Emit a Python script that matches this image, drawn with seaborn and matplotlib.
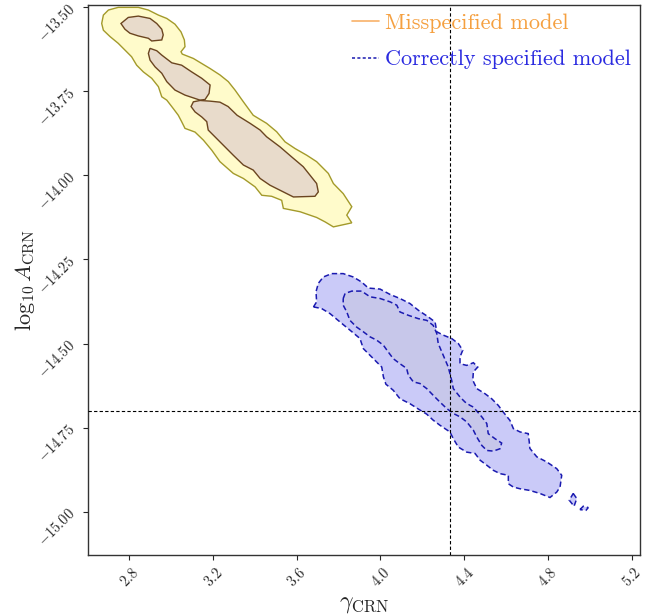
import numpy as np
import matplotlib
matplotlib.use("Agg")
import matplotlib.pyplot as plt
from matplotlib.lines import Line2D
import seaborn as sns

# credible-region outlines (gamma_CRN, log10 A_CRN)
mis_outer = np.array([
    (2.668, -13.548), (2.676, -13.523), (2.700, -13.508), (2.747, -13.500), (2.843, -13.500),
    (2.891, -13.508), (2.939, -13.523), (2.979, -13.533), (3.018, -13.550), (3.047, -13.573),
    (3.063, -13.597), (3.066, -13.617), (3.047, -13.632), (3.053, -13.639), (3.106, -13.652),
    (3.146, -13.667), (3.186, -13.682), (3.233, -13.701), (3.273, -13.721), (3.305, -13.746),
    (3.345, -13.781), (3.392, -13.821), (3.456, -13.845), (3.504, -13.870), (3.544, -13.900),
    (3.592, -13.920), (3.648, -13.940), (3.695, -13.959), (3.751, -13.994), (3.775, -14.024),
    (3.822, -14.054), (3.863, -14.093), (3.839, -14.118), (3.863, -14.141), (3.775, -14.153),
    (3.735, -14.138), (3.695, -14.125), (3.616, -14.108), (3.536, -14.098), (3.528, -14.074),
    (3.480, -14.062), (3.433, -14.059), (3.401, -14.034), (3.345, -14.009), (3.297, -13.994),
    (3.233, -13.959), (3.194, -13.925), (3.154, -13.895), (3.114, -13.871), (3.066, -13.860),
    (3.050, -13.840), (3.034, -13.821), (3.010, -13.801), (2.979, -13.776), (2.955, -13.766),
    (2.939, -13.736), (2.907, -13.711), (2.867, -13.692), (2.835, -13.672), (2.811, -13.647),
    (2.779, -13.627), (2.747, -13.607), (2.708, -13.587), (2.676, -13.568),
])
mis_inner_a = np.array([
    (2.760, -13.548), (2.795, -13.530), (2.843, -13.526), (2.899, -13.533), (2.931, -13.548),
    (2.955, -13.565), (2.962, -13.582), (2.955, -13.597), (2.907, -13.600), (2.891, -13.592),
    (2.843, -13.585), (2.803, -13.577), (2.779, -13.565),
])
mis_inner_b = np.array([
    (2.899, -13.622), (2.931, -13.629), (2.955, -13.642), (3.003, -13.665), (3.050, -13.672),
    (3.098, -13.692), (3.146, -13.711), (3.186, -13.731), (3.181, -13.756), (3.162, -13.774),
    (3.138, -13.776), (3.114, -13.771), (3.066, -13.761), (3.018, -13.746), (2.979, -13.721),
    (2.955, -13.696), (2.923, -13.677), (2.899, -13.657), (2.891, -13.637),
])
mis_inner_c = np.array([
    (3.138, -13.777), (3.186, -13.779), (3.233, -13.782), (3.272, -13.795), (3.315, -13.821),
    (3.377, -13.845), (3.425, -13.865), (3.456, -13.885), (3.520, -13.915), (3.576, -13.945),
    (3.631, -13.974), (3.663, -13.999), (3.695, -14.024), (3.703, -14.049), (3.687, -14.062),
    (3.584, -14.064), (3.520, -14.044), (3.472, -14.029), (3.425, -14.009), (3.392, -13.984),
    (3.345, -13.969), (3.297, -13.940), (3.249, -13.910), (3.201, -13.880), (3.177, -13.865),
    (3.170, -13.840), (3.146, -13.826), (3.114, -13.811), (3.095, -13.795), (3.106, -13.781),
])

cor_outer = np.array([
    (3.680, -14.391), (3.695, -14.376), (3.692, -14.346), (3.703, -14.321), (3.727, -14.302),
    (3.767, -14.292), (3.822, -14.292), (3.870, -14.302), (3.910, -14.317), (3.942, -14.335),
    (3.998, -14.338), (4.046, -14.354), (4.093, -14.366), (4.141, -14.381), (4.181, -14.401),
    (4.229, -14.421), (4.261, -14.436), (4.269, -14.465), (4.300, -14.475), (4.340, -14.485),
    (4.372, -14.500), (4.393, -14.520), (4.380, -14.540), (4.380, -14.560), (4.412, -14.565),
    (4.444, -14.557), (4.465, -14.570), (4.444, -14.584), (4.441, -14.609), (4.460, -14.634),
    (4.499, -14.649), (4.531, -14.664), (4.563, -14.684), (4.587, -14.704), (4.619, -14.729),
    (4.635, -14.753), (4.667, -14.763), (4.706, -14.768), (4.711, -14.793), (4.714, -14.812),
    (4.747, -14.837), (4.794, -14.852), (4.842, -14.872), (4.866, -14.892), (4.858, -14.927),
    (4.842, -14.942), (4.810, -14.958), (4.762, -14.946), (4.714, -14.937), (4.667, -14.932),
    (4.635, -14.927), (4.611, -14.917), (4.611, -14.892), (4.571, -14.887), (4.539, -14.877),
    (4.508, -14.862), (4.476, -14.847), (4.452, -14.827), (4.412, -14.823), (4.372, -14.808),
    (4.348, -14.783), (4.332, -14.763), (4.284, -14.743), (4.252, -14.728), (4.221, -14.710),
    (4.189, -14.698), (4.141, -14.679), (4.093, -14.664), (4.061, -14.639), (4.026, -14.621),
    (4.014, -14.599), (4.006, -14.570), (3.958, -14.540), (3.918, -14.515), (3.902, -14.485),
    (3.854, -14.460), (3.807, -14.436), (3.759, -14.411), (3.719, -14.396),
])
cor_tail_a = np.array([(4.921, -14.946), (4.938, -14.961), (4.925, -14.984), (4.902, -14.966)])
cor_tail_b = np.array([(4.953, -14.994), (4.969, -14.984), (4.993, -14.988), (4.982, -14.996)])
cor_inner = np.array([
    (3.822, -14.366), (3.831, -14.351), (3.863, -14.344), (3.910, -14.344), (3.950, -14.361),
    (3.998, -14.366), (4.046, -14.376), (4.078, -14.386), (4.093, -14.406), (4.133, -14.416),
    (4.181, -14.426), (4.221, -14.431), (4.252, -14.446), (4.269, -14.470), (4.276, -14.500),
    (4.300, -14.535), (4.324, -14.570), (4.340, -14.609), (4.348, -14.634), (4.380, -14.659),
    (4.404, -14.674), (4.428, -14.684), (4.444, -14.689), (4.484, -14.718), (4.508, -14.738),
    (4.515, -14.768), (4.547, -14.783), (4.579, -14.796), (4.571, -14.813), (4.539, -14.820),
    (4.508, -14.818), (4.484, -14.803), (4.460, -14.778), (4.444, -14.758), (4.412, -14.733),
    (4.380, -14.718), (4.348, -14.708), (4.316, -14.693), (4.284, -14.674), (4.252, -14.654),
    (4.221, -14.634), (4.189, -14.619), (4.157, -14.614), (4.133, -14.594), (4.125, -14.574),
    (4.093, -14.560), (4.061, -14.545), (4.037, -14.525), (4.014, -14.505), (3.982, -14.490),
    (3.950, -14.480), (3.918, -14.465), (3.886, -14.451), (3.854, -14.431), (3.839, -14.406),
    (3.822, -14.386),
])

true_gamma = 4.332
true_log10A = -14.70

labels = ["Misspecified model", "Correctly specified model"]
xticks = [2.8, 3.2, 3.6, 4.0, 4.4, 4.8, 5.2]
yticks = [-13.50, -13.75, -14.00, -14.25, -14.50, -14.75, -15.00]

sns.set_style("ticks")
plt.rcParams["font.family"] = "serif"
plt.rcParams["font.serif"] = ["cmr10", "DejaVu Serif"]
plt.rcParams["mathtext.fontset"] = "cm"
plt.rcParams["axes.formatter.use_mathtext"] = True

fig = plt.figure(figsize=(6.57, 6.14), dpi=100)
ax = fig.add_axes([0.1344, 0.0961, 0.8397, 0.8963])

# misspecified model: solid outlines
ax.fill(mis_outer[:, 0], mis_outer[:, 1], facecolor="#fffbcb", edgecolor="#a39a2a", lw=1.0)
for poly in (mis_inner_a, mis_inner_b, mis_inner_c):
    ax.fill(poly[:, 0], poly[:, 1], facecolor="#e8dbcb", edgecolor="#6b4520", lw=1.0)

# correctly specified model: dashed outlines
dash = (0, (3.5, 2))
for poly in (cor_outer, cor_tail_a, cor_tail_b):
    ax.fill(poly[:, 0], poly[:, 1], facecolor="#cacaf8", edgecolor="#1a1ab0", lw=1.1, ls=dash)
ax.fill(cor_inner[:, 0], cor_inner[:, 1], facecolor="#c7c7ea", edgecolor="#1a1ab0", lw=1.1, ls=dash)

ax.axvline(true_gamma, color="black", lw=0.8, ls=(0, (3, 2)), zorder=5)
ax.axhline(true_log10A, color="black", lw=0.8, ls=(0, (3, 2)), zorder=5)

ax.set_xlim(2.604, 5.240)
ax.set_ylim(-15.129, -13.492)
ax.set_xticks(xticks)
ax.set_yticks(yticks)
ax.tick_params(axis="both", labelsize=10.5, rotation=45, length=3.5, width=0.8)
for sp in ax.spines.values():
    sp.set_color("#333333")
    sp.set_linewidth(1.0)

ax.set_xlabel(r"$\gamma_{\rm CRN}$", fontsize=17, labelpad=2)
ax.set_ylabel(r"$\log_{10}A_{\rm CRN}$", fontsize=16, labelpad=-1)

handles = [Line2D([], [], color="#f8b26a", lw=1.2),
           Line2D([], [], color="#1a1ab0", lw=1.1, ls=(0, (2, 1.5)))]
ax.legend(handles, labels, loc="upper right", frameon=False, fontsize=16,
          labelcolor=["#f5a040", "#2b2be0"], handlelength=1.2, handletextpad=0.3,
          borderaxespad=0.1, borderpad=0.3, labelspacing=0.75)

fig.savefig("out.png", dpi=100)
